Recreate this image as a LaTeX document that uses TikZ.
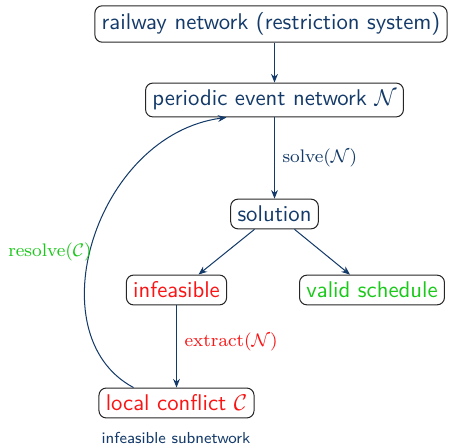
\documentclass[tikz,border=0pt]{standalone}
\usetikzlibrary{arrows.meta,calc}
\definecolor{navy}{RGB}{20,58,105}
\definecolor{okgreen}{RGB}{25,200,25}
\definecolor{badred}{RGB}{250,20,20}
\begin{document}
\begin{tikzpicture}[x=0.44pt,y=-0.44pt,
  box/.style={draw=black!85, line width=0.45pt, rounded corners=3.2pt, font=\sffamily, text=navy, inner sep=3pt},
  flow/.style={navy, line width=0.45pt, -{Stealth[length=3.8pt,width=3pt]}},
  lab/.style={font=\fontsize{8.5}{10}\selectfont, anchor=west}]
  \useasboundingbox (0,0) rectangle (449,448);

  \node[box] (rail) at (271,24) {railway network (restriction system)};
  \node[box] (pen) at (274.5,100) {periodic event network $\mathcal{N}$};
  \node[box] (sol) at (274.5,214) {solution};
  \node[box, text=badred] (inf) at (176.5,290) {infeasible};
  \node[box, text=okgreen] (valid) at (372,290) {valid schedule};
  \node[box, text=badred] (conf) at (176.5,403) {local conflict $\mathcal{C}$};
  \node[font=\sffamily\scriptsize, text=navy] (sub) at (176,438) {infeasible subnetwork};

  \draw[flow] (rail.south -| pen.north) -- (pen.north);
  \draw[flow] (pen) -- node[lab, text=navy, pos=0.5] {$\mathrm{solve}(\mathcal{N})$} (sol);
  \draw[flow] ($(sol.south)+(-20,0)$) -- ($(inf.north)+(22,0)$);
  \draw[flow] ($(sol.south)+(20,0)$) -- ($(valid.north)+(-22,0)$);
  \draw[flow] (inf) -- node[lab, text=badred, pos=0.45] {$\mathrm{extract}(\mathcal{N})$} (conf);
  \draw[flow] ($(conf.north)+(-43,0)$) .. controls (35,335) and (95,135) .. ($(pen.south)+(-48,0)$);
  \node[lab, anchor=center, text=okgreen] (res) at (50,252) {$\mathrm{resolve}(\mathcal{C})$};
\end{tikzpicture}
\end{document}
